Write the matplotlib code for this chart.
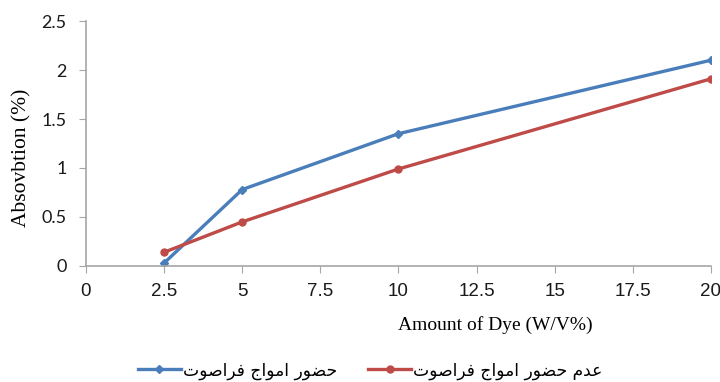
import matplotlib
matplotlib.use('Agg')
import matplotlib.pyplot as plt

# 数据
dye = [2.5, 5, 10, 20]
with_us = [0.03, 0.78, 1.35, 2.10]
without_us = [0.14, 0.45, 0.99, 1.91]
x_ticks = [0, 2.5, 5, 7.5, 10, 12.5, 15, 17.5, 20]
x_labels = ['0', '2.5', '5', '7.5', '10', '12.5', '15', '17.5', '20']
y_ticks = [0, 0.5, 1, 1.5, 2, 2.5]
y_labels = ['0', '0.5', '1', '1.5', '2', '2.5']
name_with = 'حضور امواج فراصوت'
name_without = 'عدم حضور امواج فراصوت'

# 阿拉伯字母连写 (matplotlib 不做 shaping)
FORMS = {
    'ا': ('\uFE8D', '\uFE8E', None, None),
    'ت': ('\uFE95', '\uFE96', '\uFE97', '\uFE98'),
    'ج': ('\uFE9D', '\uFE9E', '\uFE9F', '\uFEA0'),
    'ح': ('\uFEA1', '\uFEA2', '\uFEA3', '\uFEA4'),
    'د': ('\uFEA9', '\uFEAA', None, None),
    'ر': ('\uFEAD', '\uFEAE', None, None),
    'ص': ('\uFEB9', '\uFEBA', '\uFEBB', '\uFEBC'),
    'ض': ('\uFEBD', '\uFEBE', '\uFEBF', '\uFEC0'),
    'ع': ('\uFEC9', '\uFECA', '\uFECB', '\uFECC'),
    'ف': ('\uFED1', '\uFED2', '\uFED3', '\uFED4'),
    'م': ('\uFEE1', '\uFEE2', '\uFEE3', '\uFEE4'),
    'و': ('\uFEED', '\uFEEE', None, None),
}


def shape(s):
    out = []
    for i, ch in enumerate(s):
        if ch not in FORMS:
            out.append(ch)
            continue
        prev = s[i - 1] if i > 0 else ''
        nxt = s[i + 1] if i < len(s) - 1 else ''
        dual = FORMS[ch][2] is not None
        jp = prev in FORMS and FORMS[prev][2] is not None
        jn = dual and nxt in FORMS
        if jp and jn:
            out.append(FORMS[ch][3])
        elif jp:
            out.append(FORMS[ch][1])
        elif jn:
            out.append(FORMS[ch][2])
        else:
            out.append(FORMS[ch][0])
    return ''.join(out)[::-1]


fig = plt.figure(figsize=(7.2, 3.82), dpi=100)
ax = fig.add_axes([0.1194, 0.3037, 0.868, 0.6413])

l1, = ax.plot(dye, with_us, color='#4A7EBB', lw=2.4, marker='D', ms=4.5,
              label=shape(name_with), solid_joinstyle='round')
l2, = ax.plot(dye, without_us, color='#BE4B48', lw=2.4, marker='o', ms=5,
              label=shape(name_without), solid_joinstyle='round')

ax.set_xlim(0, 20)
ax.set_ylim(0, 2.5)
ax.set_xticks(x_ticks)
ax.set_xticklabels(x_labels, fontfamily='Liberation Sans', fontsize=13.5)
ax.set_yticks(y_ticks)
ax.set_yticklabels(y_labels, fontfamily='Lato', fontsize=13)
ax.tick_params(axis='both', direction='out', length=5, color='#A6A6A6',
               labelcolor='#1a1a1a')
ax.tick_params(axis='x', pad=7)
ax.tick_params(axis='y', pad=9)
for s in ['top', 'right']:
    ax.spines[s].set_visible(False)
for s in ['left', 'bottom']:
    ax.spines[s].set_color('#A6A6A6')
    ax.spines[s].set_linewidth(1.2)

# 轴标题 (位置偏移)
ax.set_xlabel('Amount of Dye (W/V%)', fontfamily='Liberation Serif', fontsize=14)
ax.xaxis.set_label_coords(0.655, -0.205)
ax.set_ylabel('Absovbtion (%)', fontfamily='Liberation Serif', fontsize=15.5)
ax.yaxis.set_label_coords(-0.087, 0.44)

fig.legend(handles=[l1, l2], loc='center', bbox_to_anchor=(0.514, 0.03),
           ncol=2, frameon=False, prop={'family': 'DejaVu Sans', 'size': 12.3},
           handlelength=2.5, columnspacing=1.85, handletextpad=0.1)

fig.savefig('out.png', dpi=100)
